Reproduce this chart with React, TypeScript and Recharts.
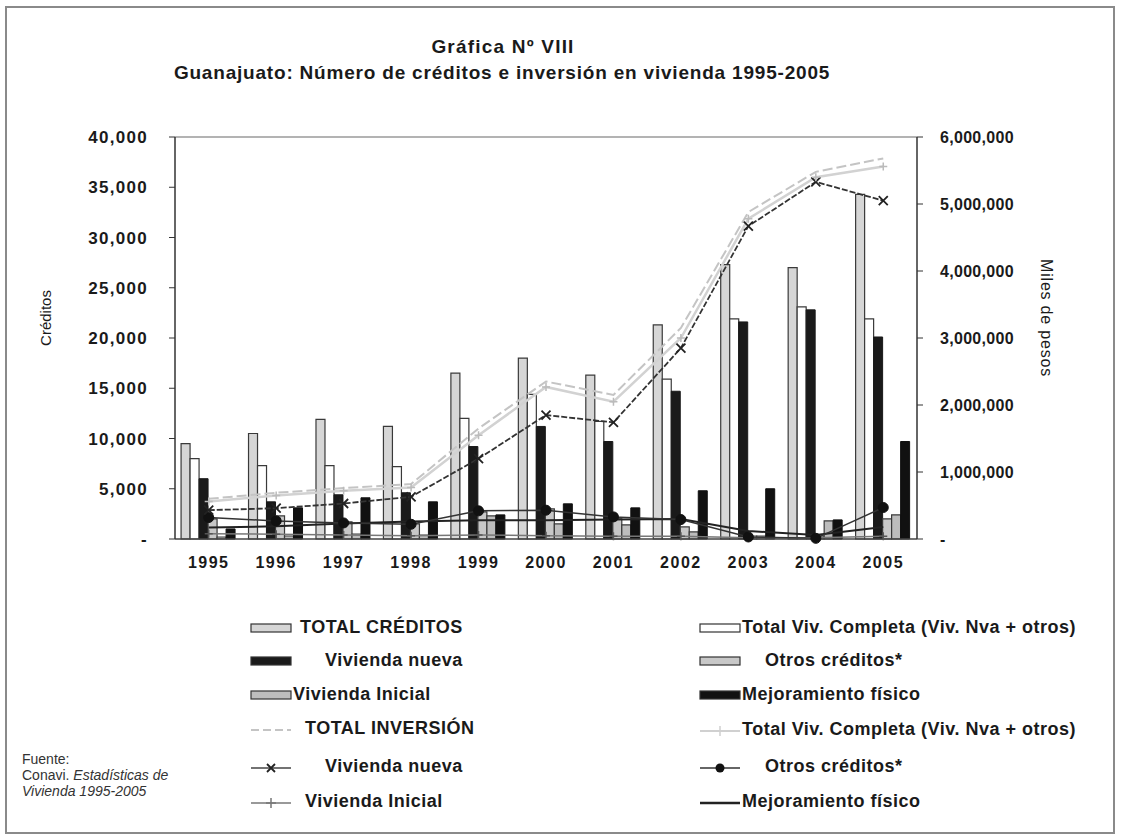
import React from 'react';
import { ComposedChart, Bar, Line, XAxis, YAxis, ReferenceLine } from 'recharts';

const years = ['1995', '1996', '1997', '1998', '1999', '2000', '2001', '2002', '2003', '2004', '2005'];

// Créditos (left axis)
const totalCreditos = [9500, 10500, 11900, 11200, 16500, 18000, 16300, 21300, 27300, 27000, 34300];
const vivCompletaCred = [8000, 7300, 7300, 7200, 12000, 14400, 11700, 15900, 21900, 23100, 21900];
const vivNuevaCred = [6000, 3700, 4400, 4600, 9200, 11200, 9700, 14700, 21600, 22800, 20100];
const otrosCred = [2000, 2300, 1700, 1500, 2700, 3000, 2000, 1200, 300, 300, 2000];
const vivInicialCred = [200, 300, 500, 400, 2300, 1500, 1400, 700, 300, 1800, 2400];
const mejoramientoCred = [1000, 3100, 4100, 3700, 2400, 3500, 3100, 4800, 5000, 1900, 9700];

// Inversión, miles de pesos (right axis)
const totalInv = [600000, 690000, 760000, 820000, 1650000, 2350000, 2150000, 3150000, 4880000, 5480000, 5680000];
const vivCompletaInv = [560000, 650000, 720000, 770000, 1550000, 2270000, 2050000, 3000000, 4780000, 5400000, 5560000];
const vivNuevaInv = [430000, 460000, 530000, 630000, 1200000, 1850000, 1740000, 2850000, 4670000, 5330000, 5050000];
const otrosInv = [320000, 270000, 240000, 220000, 420000, 430000, 330000, 290000, 30000, 10000, 470000];
const vivInicialInv = [80000, 70000, 60000, 50000, 60000, 50000, 40000, 40000, 20000, 20000, 40000];
const mejoramientoInv = [170000, 190000, 230000, 260000, 280000, 280000, 290000, 300000, 120000, 60000, 180000];

const leftTicks = [0, 5000, 10000, 15000, 20000, 25000, 30000, 35000, 40000];
const rightTicks = [0, 1000000, 2000000, 3000000, 4000000, 5000000, 6000000];

const data = years.map((y, i) => ({
  year: y,
  totalCreditos: totalCreditos[i],
  vivCompletaCred: vivCompletaCred[i],
  vivNuevaCred: vivNuevaCred[i],
  otrosCred: otrosCred[i],
  vivInicialCred: vivInicialCred[i],
  mejoramientoCred: mejoramientoCred[i],
  totalInv: totalInv[i],
  vivCompletaInv: vivCompletaInv[i],
  vivNuevaInv: vivNuevaInv[i],
  otrosInv: otrosInv[i],
  vivInicialInv: vivInicialInv[i],
  mejoramientoInv: mejoramientoInv[i],
}));

const FONT = '"Liberation Sans", Arial, sans-serif';
const fmt = (v: number) => (v === 0 ? '-' : v.toLocaleString('en-US'));

const XDot = (props: any) => {
  const { cx, cy, index } = props;
  if (cx == null || cy == null) return <g key={index} />;
  const s = 4.5;
  return (
    <path key={index} d={`M${cx - s},${cy - s}L${cx + s},${cy + s}M${cx - s},${cy + s}L${cx + s},${cy - s}`} stroke="#222" strokeWidth={1.8} fill="none" />
  );
};
const PlusDot = (color: string, s: number) => (props: any) => {
  const { cx, cy, index } = props;
  if (cx == null || cy == null) return <g key={index} />;
  return (
    <path key={index} d={`M${cx - s},${cy}L${cx + s},${cy}M${cx},${cy - s}L${cx},${cy + s}`} stroke={color} strokeWidth={1.5} fill="none" />
  );
};
const CircleDot = (props: any) => {
  const { cx, cy, index } = props;
  if (cx == null || cy == null) return <g key={index} />;
  return <circle key={index} cx={cx} cy={cy} r={5} fill="#111" stroke="#111" />;
};

const txt: React.CSSProperties = { position: 'absolute', fontFamily: FONT, color: '#1a1a1a', whiteSpace: 'nowrap' };

const BarIcon = ({ fill }: { fill: string }) => (
  <svg width={42} height={12} style={{ display: 'block' }}>
    <rect x={1} y={2} width={40} height={8} fill={fill} stroke="#333" strokeWidth={1.2} />
  </svg>
);
const LineIcon = ({ stroke, dash, marker, width }: { stroke: string; dash?: string; marker?: string; width?: number }) => (
  <svg width={42} height={14} style={{ display: 'block' }}>
    <line x1={1} y1={7} x2={41} y2={7} stroke={stroke} strokeWidth={width || 1.5} strokeDasharray={dash} />
    {marker === 'x' && <path d="M17,3L25,11M17,11L25,3" stroke="#222" strokeWidth={1.8} />}
    {marker === 'plus' && <path d="M16,7L26,7M21,2L21,12" stroke={stroke} strokeWidth={1.5} />}
    {marker === 'circle' && <circle cx={21} cy={7} r={4.5} fill="#111" />}
  </svg>
);

const legendLeft = [
  { label: 'TOTAL CRÉDITOS', y: 628, tx: 300, icon: <BarIcon fill="#d6d6d6" /> },
  { label: 'Vivienda nueva', y: 661, tx: 325, icon: <BarIcon fill="#1a1a1a" /> },
  { label: 'Vivienda Inicial', y: 695, tx: 293, icon: <BarIcon fill="#bdbdbd" /> },
  { label: 'TOTAL INVERSIÓN', y: 729, tx: 305, icon: <LineIcon stroke="#c4c4c4" dash="8 4" width={2} /> },
  { label: 'Vivienda nueva', y: 767, tx: 325, icon: <LineIcon stroke="#444" marker="x" /> },
  { label: 'Vivienda Inicial', y: 802, tx: 305, icon: <LineIcon stroke="#777" marker="plus" /> },
];
const legendRight = [
  { label: 'Total Viv. Completa (Viv. Nva + otros)', y: 628, tx: 742, icon: <BarIcon fill="#ffffff" /> },
  { label: 'Otros créditos*', y: 661, tx: 765, icon: <BarIcon fill="#c8c8c8" /> },
  { label: 'Mejoramiento físico', y: 695, tx: 742, icon: <BarIcon fill="#111" /> },
  { label: 'Total Viv. Completa (Viv. Nva + otros)', y: 730, tx: 742, icon: <LineIcon stroke="#d0d0d0" marker="plus" width={2} /> },
  { label: 'Otros créditos*', y: 767, tx: 765, icon: <LineIcon stroke="#333" marker="circle" /> },
  { label: 'Mejoramiento físico', y: 802, tx: 742, icon: <LineIcon stroke="#222" width={2.5} /> },
];

export default function App() {
  return (
    <div style={{ position: 'absolute', left: 0, top: 0, width: 1121, height: 837, background: '#fff', overflow: 'hidden' }}>
      <div style={{ position: 'absolute', left: 5, top: 6, width: 1106, height: 824, border: '2px solid #8a8a8a' }} />
      <div style={{ ...txt, left: 0, width: 1006, top: 36, textAlign: 'center', fontSize: 19, fontWeight: 'bold', letterSpacing: 1.2 }}>Gráfica Nº VIII</div>
      <div style={{ ...txt, left: 0, width: 1004, top: 62, textAlign: 'center', fontSize: 19, fontWeight: 'bold', letterSpacing: 0.8 }}>
        Guanajuato: Número de créditos e inversión en vivienda 1995-2005
      </div>

      <ComposedChart
        width={1121}
        height={837}
        data={data}
        margin={{ top: 137, right: 0, bottom: 258, left: 0 }}
        barCategoryGap="9%"
        barGap={0}
        style={{ position: 'absolute', left: 0, top: 0 }}
      >
        <XAxis
          dataKey="year"
          height={40}
          tickLine={false}
          tickSize={6}
          tickMargin={12}
          axisLine={{ stroke: '#444', strokeWidth: 1.5 }}
          tick={{ fontSize: 16, fontWeight: 'bold', fill: '#1a1a1a', fontFamily: FONT, letterSpacing: 1.5 }}
          interval={0}
        />
        <YAxis
          yAxisId="left"
          orientation="left"
          width={175}
          domain={[0, 40000]}
          ticks={leftTicks}
          tickFormatter={fmt}
          tickSize={6}
          tickMargin={21}
          interval={0}
          axisLine={{ stroke: '#333', strokeWidth: 1.5 }}
          tickLine={{ stroke: '#333' }}
          tick={{ fontSize: 17, fontWeight: 'bold', fill: '#1a1a1a', fontFamily: FONT, letterSpacing: 1.3 }}
        />
        <YAxis
          yAxisId="right"
          orientation="right"
          width={204}
          domain={[0, 6000000]}
          ticks={rightTicks}
          tickFormatter={fmt}
          tickSize={6}
          tickMargin={17}
          interval={0}
          axisLine={{ stroke: '#333', strokeWidth: 1.5 }}
          tickLine={{ stroke: '#333' }}
          tick={{ fontSize: 16, fontWeight: 'bold', fill: '#1a1a1a', fontFamily: FONT, letterSpacing: 0.3 }}
        />
        <ReferenceLine yAxisId="left" y={40000} stroke="#9a9a9a" strokeWidth={1.5} />

        <Bar yAxisId="left" dataKey="totalCreditos" fill="#d6d6d6" stroke="#3a3a3a" strokeWidth={1.2} isAnimationActive={false} />
        <Bar yAxisId="left" dataKey="vivCompletaCred" fill="#ffffff" stroke="#3a3a3a" strokeWidth={1.2} isAnimationActive={false} />
        <Bar yAxisId="left" dataKey="vivNuevaCred" fill="#1a1a1a" stroke="#1a1a1a" strokeWidth={1} isAnimationActive={false} />
        <Bar yAxisId="left" dataKey="otrosCred" fill="#c8c8c8" stroke="#3a3a3a" strokeWidth={1.2} isAnimationActive={false} />
        <Bar yAxisId="left" dataKey="vivInicialCred" fill="#bdbdbd" stroke="#3a3a3a" strokeWidth={1.2} isAnimationActive={false} />
        <Bar yAxisId="left" dataKey="mejoramientoCred" fill="#111111" stroke="#111111" strokeWidth={1} isAnimationActive={false} />

        <Line yAxisId="right" dataKey="mejoramientoInv" stroke="#222" strokeWidth={2} dot={false} isAnimationActive={false} />
        <Line yAxisId="right" dataKey="vivInicialInv" stroke="#777" strokeWidth={1.5} dot={PlusDot('#555', 4)} isAnimationActive={false} />
        <Line yAxisId="right" dataKey="otrosInv" stroke="#333" strokeWidth={1.5} dot={CircleDot} isAnimationActive={false} />
        <Line yAxisId="right" dataKey="vivNuevaInv" stroke="#333" strokeWidth={1.8} strokeDasharray="6 2" dot={XDot} isAnimationActive={false} />
        <Line yAxisId="right" dataKey="totalInv" stroke="#c4c4c4" strokeWidth={2} strokeDasharray="10 4" dot={false} isAnimationActive={false} />
        <Line yAxisId="right" dataKey="vivCompletaInv" stroke="#d2d2d2" strokeWidth={2.5} dot={PlusDot('#bbb', 4)} isAnimationActive={false} />
      </ComposedChart>

      <div style={{ ...txt, left: 45, top: 318, fontSize: 15, transform: 'translate(-50%, -50%) rotate(-90deg)' }}>Créditos</div>
      <div style={{ ...txt, left: 1046, top: 318, fontSize: 16, letterSpacing: 0.8, transform: 'translate(-50%, -50%) rotate(90deg)' }}>Miles de pesos</div>

      {legendLeft.map((l, i) => (
        <React.Fragment key={'l' + i}>
          <div style={{ position: 'absolute', left: 250, top: l.y - 6 }}>{l.icon}</div>
          <div style={{ ...txt, left: l.tx, top: l.y - 11, fontSize: 18, fontWeight: 'bold', letterSpacing: 0.5 }}>{l.label}</div>
        </React.Fragment>
      ))}
      {legendRight.map((l, i) => (
        <React.Fragment key={'r' + i}>
          <div style={{ position: 'absolute', left: 699, top: l.y - 6 }}>{l.icon}</div>
          <div style={{ ...txt, left: l.tx, top: l.y - 11, fontSize: 18, fontWeight: 'bold', letterSpacing: 0.5 }}>{l.label}</div>
        </React.Fragment>
      ))}

      <div style={{ ...txt, left: 22, top: 751, fontSize: 14, lineHeight: '16px', color: '#333' }}>
        Fuente:
        <br />
        Conavi. <i>Estadísticas de</i>
        <br />
        <i>Vivienda 1995-2005</i>
      </div>
    </div>
  );
}
